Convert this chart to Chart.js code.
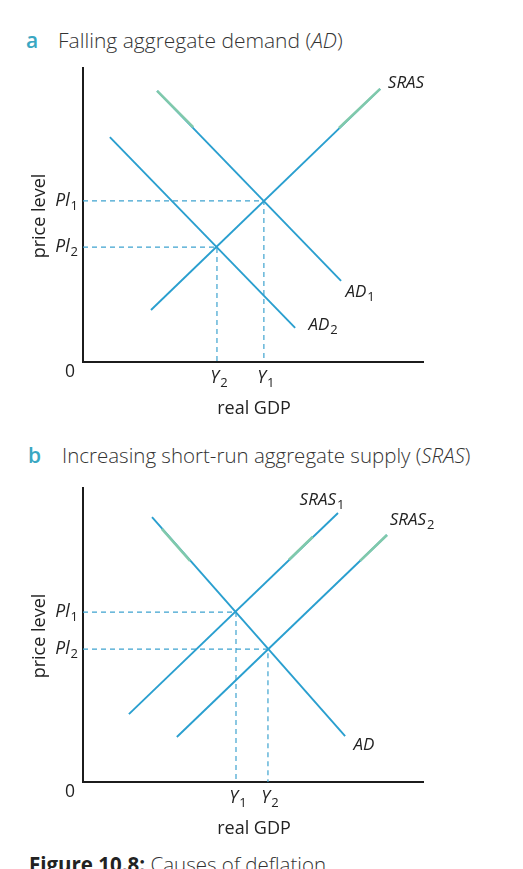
<!DOCTYPE html>
<html>
<head>
<meta charset="utf-8">
<script src="https://cdn.jsdelivr.net/npm/chart.js@4.4.1/dist/chart.umd.min.js"></script>
<style>
html, body { margin: 0; padding: 0; background: #fff; }
body { width: 523px; height: 869px; overflow: hidden; position: relative; font-family: "Open Sans", sans-serif; }
.head { position: absolute; font-size: 21px; line-height: 28px; color: #333; font-weight: 300; white-space: nowrap; }
.letter { position: absolute; font-size: 21px; line-height: 28px; color: #3aa7c2; font-weight: 600; }
.panel { position: absolute; left: 0; width: 523px; height: 380px; }
.caption { position: absolute; left: 29px; top: 850px; font-size: 20.5px; line-height: 28px; color: #333; font-weight: 300; white-space: nowrap; }
.caption b { font-weight: 700; color: #222; }
</style>
</head>
<body>

<div class="letter" style="left:26px;top:26px;">a</div>
<div class="head" style="left:58px;top:26px;">Falling aggregate demand (<i>AD</i>)</div>
<div class="panel" style="top:50px;"><canvas id="chartA"></canvas></div>

<div class="letter" style="left:28px;top:441px;">b</div>
<div class="head" style="left:62px;top:441px;font-size:20.5px;">Increasing short-run aggregate supply (<i>SRAS</i>)</div>
<div class="panel" style="top:470px;"><canvas id="chartB"></canvas></div>

<div class="caption"><b>Figure 10.8:</b> Causes of deflation</div>

<script>
/* =========================
   DATA (axis units 0..10)
========================= */
// panel a: falling AD
const srasA = [[2.0, 1.77], [8.74, 9.29]];
const ad1A  = [[2.18, 9.22], [7.59, 2.76]];
const ad2A  = [[0.79, 7.65], [6.24, 1.16]];
const plA   = [5.48, 3.91];   // Pl1, Pl2
const yA    = [5.32, 3.94];   // Y1, Y2

// panel b: rising SRAS
const adB    = [[2.03, 9.01], [7.71, 1.56]];
const sras1B = [[1.35, 2.31], [7.5, 9.15]];
const sras2B = [[2.76, 1.53], [8.94, 8.40]];
const plB    = [5.78, 4.52];
const yB     = [4.5, 5.44];

// greenish print tint along the line ends
const tintA = [
    [[7.53, 7.96], [8.74, 9.29]],
    [[2.18, 9.22], [3.24, 7.99]]
];
const tintB = [
    [[2.32, 8.61], [3.15, 7.52]],
    [[6.06, 7.56], [6.76, 8.34]],
    [[8.15, 7.52], [8.94, 8.40]]
];

/* =========================
   STYLE
========================= */
const LINE = "#2a9fcf";
const GUIDE = "#3ea3cf";
const TINT = "#80c9ab";
const AXIS = "#1c1c1c";
const FONT = '"Open Sans", sans-serif';

function pts(arr) {
    return arr.map(p => ({ x: p[0], y: p[1] }));
}

function curve(arr, color, width) {
    return {
        data: pts(arr),
        showLine: true,
        borderColor: color,
        borderWidth: width,
        pointRadius: 0,
        tension: 0,
        fill: false
    };
}

function guide(xv, yv) {
    return {
        data: [{ x: 0, y: yv }, { x: xv, y: yv }, { x: xv, y: 0 }],
        showLine: true,
        borderColor: GUIDE,
        borderWidth: 1.2,
        borderDash: [5, 4],
        pointRadius: 0,
        tension: 0,
        fill: false
    };
}

/* =========================
   TEXT: labels with subscripts
========================= */
function drawLabel(ctx, main, sub, px, py, size, italic, align) {
    ctx.font = `${italic ? "italic " : ""}${size}px ${FONT}`;
    const w1 = ctx.measureText(main).width;
    let w2 = 0;
    const subSize = Math.round(size * 0.75);
    if (sub) {
        ctx.font = `${subSize}px ${FONT}`;
        w2 = ctx.measureText(sub).width + 1;
    }
    let x0 = px;
    if (align === "center") x0 = px - (w1 + w2) / 2;
    if (align === "right") x0 = px - (w1 + w2);

    ctx.textAlign = "left";
    ctx.textBaseline = "middle";
    ctx.font = `${italic ? "italic " : ""}${size}px ${FONT}`;
    ctx.fillText(main, x0, py);
    if (sub) {
        ctx.font = `${subSize}px ${FONT}`;
        ctx.fillText(sub, x0 + w1 + 1, py + size * 0.3);
    }
}

function textPlugin(labels, pl, yv) {
    return {
        id: "texts",
        afterDraw(chart) {
            const { ctx, scales: { x, y } } = chart;
            ctx.save();
            ctx.fillStyle = "#222";

            // curve names
            labels.forEach(l => {
                drawLabel(ctx, l.t, l.s, x.getPixelForValue(l.x), y.getPixelForValue(l.y), 17, true, "center");
            });

            // Pl ticks on the y axis
            const left = x.getPixelForValue(0);
            drawLabel(ctx, "Pl", "1", left - 5, y.getPixelForValue(pl[0]), 17.5, true, "right");
            drawLabel(ctx, "Pl", "2", left - 5, y.getPixelForValue(pl[1]), 17.5, true, "right");

            // Y ticks on the x axis
            const base = y.getPixelForValue(0);
            drawLabel(ctx, "Y", "1", x.getPixelForValue(yv[0]) + 2, base + 16, 17.5, true, "center");
            drawLabel(ctx, "Y", "2", x.getPixelForValue(yv[1]) + 2, base + 16, 17.5, true, "center");

            // origin
            drawLabel(ctx, "0", "", left - 13, base + 10, 17.5, false, "center");

            // axis titles
            ctx.font = `18px ${FONT}`;
            ctx.textAlign = "center";
            ctx.textBaseline = "middle";
            ctx.fillText("real GDP", x.getPixelForValue(5) + 1, base + 47);
            ctx.save();
            ctx.translate(left - 43, y.getPixelForValue(5) + 1);
            ctx.rotate(-Math.PI / 2);
            ctx.fillText("price level", 0, 0);
            ctx.restore();

            ctx.restore();
        }
    };
}

/* =========================
   CHART BUILDER
========================= */
function buildChart(canvasId, datasets, plugin) {
    const canvas = document.getElementById(canvasId);
    if (!canvas) return;
    const axis = {
        type: "linear",
        min: 0,
        max: 10,
        display: true,
        ticks: { display: false },
        grid: { display: false, drawTicks: false },
        border: { display: true, color: AXIS, width: 2 }
    };
    new Chart(canvas.getContext("2d"), {
        type: "scatter",
        data: { datasets },
        options: {
            responsive: true,
            maintainAspectRatio: false,
            animation: false,
            layout: { padding: { left: 83, right: 100, top: 18, bottom: 68 } },
            plugins: { legend: { display: false }, tooltip: { enabled: false } },
            scales: { x: axis, y: axis }
        },
        plugins: [plugin]
    });
}

document.addEventListener("DOMContentLoaded", () => {
    buildChart("chartA", [
        ...tintA.map(s => curve(s, TINT, 2.6)),
        curve(srasA, LINE, 1.9),
        curve(ad1A, LINE, 1.9),
        curve(ad2A, LINE, 1.9),
        guide(yA[0], plA[0]),
        guide(yA[1], plA[1])
    ], textPlugin([
        { t: "SRAS", x: 9.5, y: 9.49 },
        { t: "AD", s: "1", x: 8.15, y: 2.38 },
        { t: "AD", s: "2", x: 7.06, y: 1.26 }
    ], plA, yA));

    buildChart("chartB", [
        ...tintB.map(s => curve(s, TINT, 2.6)),
        curve(adB, LINE, 1.9),
        curve(sras1B, LINE, 1.9),
        curve(sras2B, LINE, 1.9),
        guide(yB[0], plB[0]),
        guide(yB[1], plB[1])
    ], textPlugin([
        { t: "SRAS", s: "1", x: 7.03, y: 9.59 },
        { t: "SRAS", s: "2", x: 9.68, y: 8.91 },
        { t: "AD", x: 8.26, y: 1.26 }
    ], plB, yB));
});
</script>
</body>
</html>
